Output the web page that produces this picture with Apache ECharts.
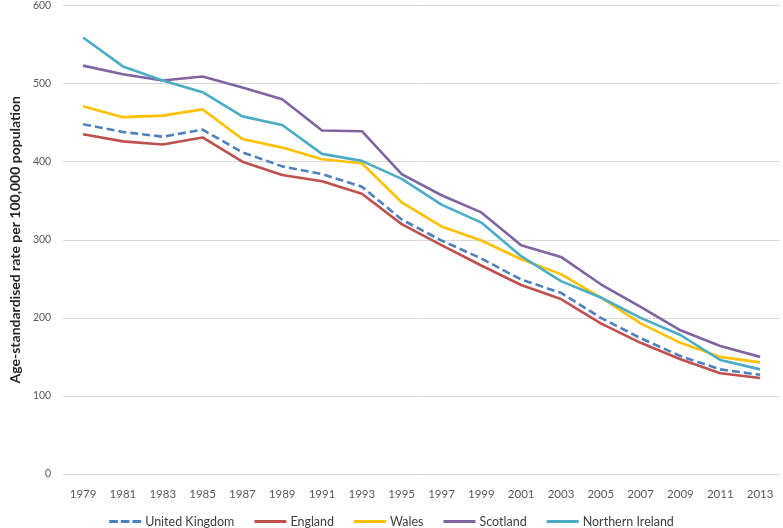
<!DOCTYPE html>
<html>
<head>
<meta charset="utf-8">
<script src="https://cdn.jsdelivr.net/npm/echarts@6/dist/echarts.min.js"></script>
<style>
html,body{margin:0;padding:0;background:#fff;}
#chart{width:783px;height:528px;}
</style>
</head>
<body>
<div id="chart"></div>
<script>
const years = ['1979','1981','1983','1985','1987','1989','1991','1993','1995','1997','1999','2001','2003','2005','2007','2009','2011','2013'];
const unitedKingdom = [448,438,432,441,412,394,384,368,326,299,276,249,232,200,174,151,134,127];
const england = [435,426,422,431,400,383,375,359,320,293,267,242,224,193,168,147,129,123];
const wales = [471,457,459,467,429,418,403,398,348,317,299,275,256,226,193,168,150,143];
const scotland = [523,512,504,509,495,480,440,439,384,357,335,293,278,243,214,184,164,150];
const northernIreland = [559,522,504,489,458,447,410,401,378,345,322,279,247,226,200,178,146,134];
const yTicks = {min:0, max:600, interval:100};

const font = 'Lato, "Open Sans", sans-serif';
function line(name, data, color, dashed){
  return {
    name: name, type: 'line', data: data, symbol: 'none', smooth: false,
    lineStyle: {color: color, width: 2.6, type: dashed ? [8,4] : 'solid'},
    itemStyle: {color: color},
    z: dashed ? 1 : 2
  };
}
const chart = echarts.init(document.getElementById('chart'));
chart.setOption({
  animation: false,
  backgroundColor: '#fff',
  grid: {left: 47, right: 3, top: 5, bottom: 54, containLabel: false},
  legend: {
    top: 510, left: 'center', itemWidth: 32, itemHeight: 3, itemGap: 20,
    icon: 'rect',
    textStyle: {color: '#404040', fontSize: 12.5, fontFamily: font, padding: [0,0,0,-1]},
    data: [
      {name: 'United Kingdom', icon: 'path://M0,0H9V3H0Z M12,0H21V3H12Z M24,0H33V3H24Z'},
      'England','Wales','Scotland','Northern Ireland'
    ]
  },
  xAxis: {
    type: 'category', data: years, boundaryGap: true,
    axisLine: {show: false}, axisTick: {show: false},
    axisLabel: {color: '#595959', fontSize: 11.5, fontFamily: font, margin: 14}
  },
  yAxis: {
    type: 'value', min: yTicks.min, max: yTicks.max, interval: yTicks.interval,
    name: 'Age-standardised rate per 100,000 population',
    nameLocation: 'middle', nameGap: 31, nameRotate: 90,
    nameTextStyle: {color: '#262626', fontSize: 14, fontWeight: 'bold', fontFamily: font},
    axisLine: {show: false}, axisTick: {show: false},
    axisLabel: {color: '#595959', fontSize: 10.5, fontFamily: font, margin: 12},
    splitLine: {lineStyle: {color: '#d9d9d9', width: 1}}
  },
  series: [
    line('United Kingdom', unitedKingdom, '#4F81BD', true),
    line('England', england, '#C0504D', false),
    line('Wales', wales, '#FFC000', false),
    line('Scotland', scotland, '#8064A2', false),
    line('Northern Ireland', northernIreland, '#4BACC6', false)
  ]
});
</script>
</body>
</html>
